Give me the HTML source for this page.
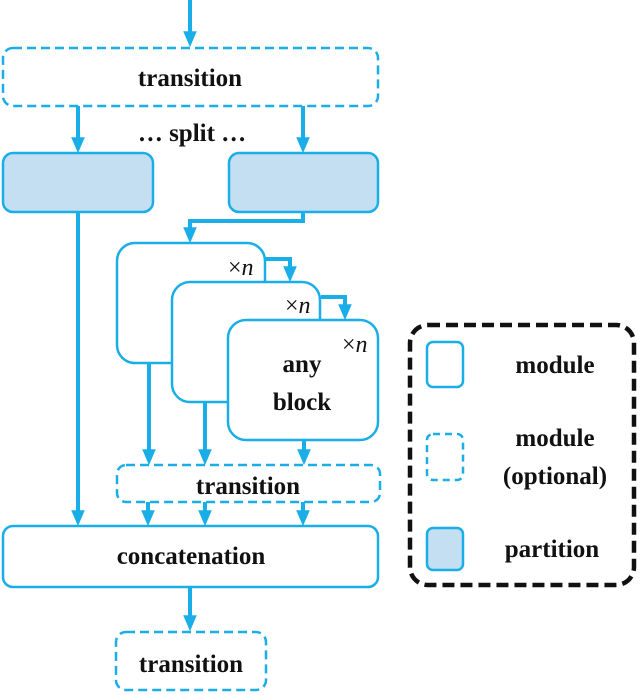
<!DOCTYPE html>
<html><head><meta charset="utf-8"><style>
html,body{margin:0;padding:0;background:#fff;}
svg{display:block;}
.t{font-family:"Liberation Serif","Times New Roman","DejaVu Serif Condensed","DejaVu Serif",serif;}
</style></head><body>
<svg width="640" height="695" viewBox="0 0 640 695" xmlns="http://www.w3.org/2000/svg">
<defs>
<marker id="a" markerWidth="4" markerHeight="4" refX="2.2" refY="2" orient="auto" markerUnits="strokeWidth">
<path d="M0,0.3 L4,2 L0,3.7 z" fill="#1aaee8"/>
</marker>
</defs>
<g stroke="#1aaee8" fill="none" stroke-width="2.5">
<rect x="3" y="48" width="375" height="58" rx="10" stroke-dasharray="9,5"/>
<rect x="3" y="153" width="150" height="59" rx="10" fill="#c3dff1"/>
<rect x="229" y="153" width="149" height="59" rx="10" fill="#c3dff1"/>
<rect x="117" y="243" width="148" height="120" rx="18" fill="#fff"/>
<rect x="172" y="282" width="148" height="120" rx="18" fill="#fff"/>
<rect x="228" y="320" width="150" height="120" rx="18" fill="#fff"/>
<rect x="117" y="465" width="263" height="37" rx="9" stroke-dasharray="9,5"/>
<rect x="3" y="526" width="375" height="61" rx="10"/>
<rect x="116" y="632" width="150" height="58" rx="10" stroke-dasharray="9,5"/>
<rect x="427" y="342" width="36" height="45" rx="6"/>
<rect x="427" y="434" width="36" height="46" rx="6" stroke-dasharray="7,5"/>
<rect x="427" y="528" width="36" height="42" rx="6" fill="#c3dff1"/>
</g>
<g stroke="#1aaee8" fill="none" stroke-width="4">
<path d="M190,0 V40" marker-end="url(#a)"/>
<path d="M78,106 V146" marker-end="url(#a)"/>
<path d="M303,106 V146" marker-end="url(#a)"/>
<path d="M303,212 V221 H190 V236" marker-end="url(#a)"/>
<path d="M266,259 H290 V275" marker-end="url(#a)"/>
<path d="M321,297 H345 V313" marker-end="url(#a)"/>
<path d="M78,212 V519" marker-end="url(#a)"/>
<path d="M149,363 V458" marker-end="url(#a)"/>
<path d="M205,402 V458" marker-end="url(#a)"/>
<path d="M304,440 V458" marker-end="url(#a)"/>
<path d="M148,502 V519" marker-end="url(#a)"/>
<path d="M205,502 V519" marker-end="url(#a)"/>
<path d="M303,502 V519" marker-end="url(#a)"/>
<path d="M190,587 V624" marker-end="url(#a)"/>
</g>
<rect x="410" y="325" width="224" height="260" rx="18" fill="none" stroke="#111" stroke-width="4.5" stroke-dasharray="12,6"/>
<g class="t" font-weight="bold" font-size="25" text-anchor="middle" fill="#111">
<text x="190" y="86">transition</text>
<text x="192" y="141">… split …</text>
<text x="302" y="372">any</text>
<text x="302" y="410">block</text>
<text x="248" y="494">transition</text>
<text x="191" y="564">concatenation</text>
<text x="191" y="672">transition</text>
<text x="555" y="373">module</text>
<text x="555" y="446">module</text>
<text x="555" y="484">(optional)</text>
<text x="552" y="557">partition</text>
</g>
<g class="t" font-size="24" fill="#111">
<text x="228" y="275">×<tspan font-style="italic">n</tspan></text>
<text x="285" y="313">×<tspan font-style="italic">n</tspan></text>
<text x="342" y="352">×<tspan font-style="italic">n</tspan></text>
</g>
</svg>
</body></html>
